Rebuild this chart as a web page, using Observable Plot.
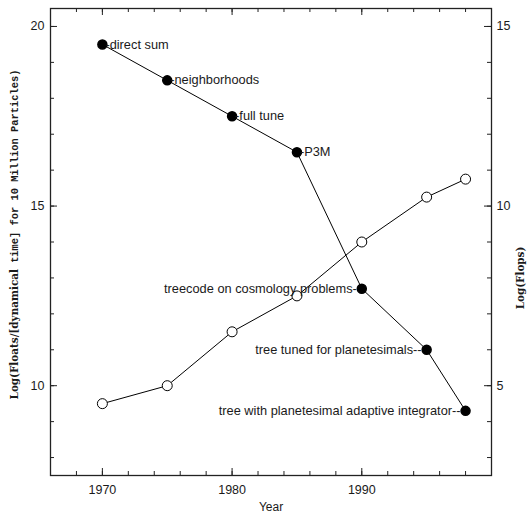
<!DOCTYPE html>
<html>
<head>
<meta charset="utf-8">
<script src="https://cdn.jsdelivr.net/npm/d3@7"></script>
<script src="https://cdn.jsdelivr.net/npm/@observablehq/plot@0.6"></script>
<style>
  html, body { margin: 0; padding: 0; background: #fff; }
  svg { display: block; }
</style>
</head>
<body>
<div id="chart"></div>
<script>
const years  = [1970, 1975, 1980, 1985, 1990, 1995, 1998];
const floats = [19.5, 18.5, 17.5, 16.5, 12.7, 11.0, 9.3];
const flops  = [4.5, 5.0, 6.5, 7.5, 9.0, 10.25, 10.75];
const labels = [
  "-direct sum",
  "-neighborhoods",
  "-full tune",
  "-P3M",
  "treecode on cosmology problems-",
  "tree tuned for planetesimals--",
  "tree with planetesimal adaptive integrator--"
];
const xMajor = [1970, 1980, 1990];
const xMinor = d3.range(1968, 2000, 2);
const yLeftMajor = [10, 15, 20];
const yRightMajor = [5, 10, 15];
const yMinor = d3.range(8, 21, 1);
const flopsOffset = 5;

const W = 527, H = 517;
const mL = 50, mR = 36, mT = 8, mB = 42;
const iw = W - mL - mR, ih = H - mT - mB;

const data = years.map((y, i) => ({year: y, floats: floats[i], flops: flops[i], label: labels[i]}));
const right = data.filter(d => d.label.startsWith("-"));
const left = data.filter(d => !d.label.startsWith("-"));

const font = "Liberation Sans, Arial, sans-serif";
const ink = "#1a1a1a";

const plot = Plot.plot({
  width: W, height: H,
  marginLeft: mL, marginRight: mR, marginTop: mT, marginBottom: mB,
  style: {fontFamily: font, fontSize: "12px", background: "white", color: ink},
  x: {domain: [1966, 2000], axis: null},
  y: {domain: [7.5, 20.5], axis: null},
  marks: [
    // ticks (inward)
    Plot.ruleX(xMinor, {x: d => d, insetTop: ih - 4, stroke: "#222"}),
    Plot.ruleX(xMinor, {x: d => d, insetBottom: ih - 4, stroke: "#222"}),
    Plot.ruleX(xMajor, {x: d => d, insetTop: ih - 7, stroke: "#222"}),
    Plot.ruleX(xMajor, {x: d => d, insetBottom: ih - 7, stroke: "#222"}),
    Plot.ruleY(yMinor, {y: d => d, insetRight: iw - 4, stroke: "#222"}),
    Plot.ruleY(yMinor, {y: d => d, insetLeft: iw - 4, stroke: "#222"}),
    Plot.ruleY(yLeftMajor, {y: d => d, insetRight: iw - 7, stroke: "#222"}),
    Plot.ruleY(yRightMajor, {y: d => d + flopsOffset, insetLeft: iw - 7, stroke: "#222"}),
    Plot.frame({stroke: "#222", strokeWidth: 1.3}),
    // tick labels
    Plot.text(xMajor, {x: d => d, frameAnchor: "bottom", dy: 18, text: d => String(d), fontSize: 12.5, fill: ink}),
    Plot.text(yLeftMajor, {y: d => d, frameAnchor: "left", dx: -6, textAnchor: "end", text: d => String(d), fontSize: 12.5, fill: ink}),
    Plot.text(yRightMajor, {y: d => d + flopsOffset, frameAnchor: "right", dx: 5, textAnchor: "start", text: d => String(d), fontSize: 12.5, fill: ink}),
    // lines
    Plot.line(data, {x: "year", y: "floats", stroke: "black", strokeWidth: 1}),
    Plot.line(data, {x: "year", y: d => d.flops + flopsOffset, stroke: "black", strokeWidth: 1}),
    // points
    Plot.dot(data, {x: "year", y: d => d.flops + flopsOffset, r: 5, fill: "white", stroke: "black", strokeWidth: 1}),
    Plot.dot(data, {x: "year", y: "floats", r: 4.5, fill: "black", stroke: "black"}),
    // labels
    Plot.text(right, {x: "year", y: "floats", text: "label", textAnchor: "start", dx: 3, fontSize: 12.8, fill: ink}),
    Plot.text(left, {x: "year", y: "floats", text: "label", textAnchor: "end", dx: -5, fontSize: 12.8, fill: ink}),
    Plot.text(["Year"], {frameAnchor: "bottom", dy: 35, text: d => d, fontSize: 12, fill: ink})
  ]
});

const svg = d3.select(plot);
const t = svg.append("text")
  .attr("transform", `translate(15,${mT + ih / 2 - 7}) rotate(-90)`)
  .attr("text-anchor", "middle")
  .attr("dominant-baseline", "middle")
  .attr("font-size", 10.4)
  .attr("font-weight", "bold")
  .attr("fill", ink);
t.append("tspan").attr("font-family", "DejaVu Serif, serif").text("Log(Floats/[dynamical");
t.append("tspan").attr("font-family", "Liberation Mono, Courier New, monospace").text(" time] for 10 Million Particles)");

svg.append("text")
  .attr("transform", `translate(521,278) rotate(-90)`)
  .attr("text-anchor", "middle")
  .attr("dominant-baseline", "middle")
  .attr("font-size", 10.4)
  .attr("font-weight", "bold")
  .attr("font-family", "DejaVu Serif, serif")
  .attr("fill", ink)
  .text("Log(Flops)");

document.getElementById("chart").appendChild(plot);
</script>
</body>
</html>
